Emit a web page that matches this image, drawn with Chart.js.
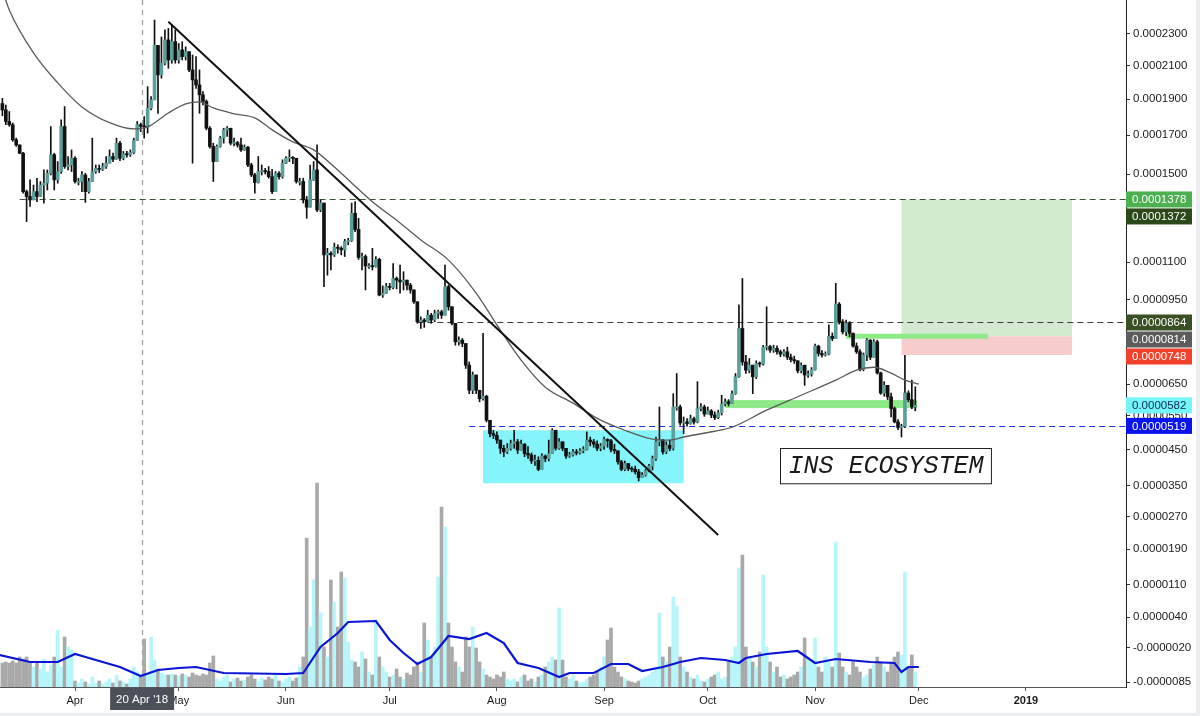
<!DOCTYPE html>
<html>
<head>
<meta charset="utf-8">
<script src="https://cdn.jsdelivr.net/npm/chart.js@4.4.1/dist/chart.umd.min.js"></script>
<style>
  html, body { margin: 0; padding: 0; background: #fff; }
  canvas { display: block; }
</style>
</head>
<body>
<canvas id="chart" width="1200" height="716"></canvas>
<script>
// INS/BTC daily candles. Prices in satoshi (1e-8 BTC), day 0 = 1 Apr 2018
const firstDay = -21;
const firstOpen = 18750;

const close = [
  18390, 17750, 17570, 16760, 16490, 16060, 14150, 13920, 13760, 14150, 13920, 14470, 14560, 15040, 15980, 14720, 15130, 17470, 15380, 15460, 15800,
  14640, 14640, 14960, 14150, 14640, 15130, 15290, 15240, 15380, 15550,
  15890, 15750, 16580, 15800, 16030, 15980, 16100, 16720, 17570, 17480,
  17450, 18480, 18960, 22260, 20430, 21140, 22610, 21340, 22500, 21340,
  21970, 21550, 21860, 20730, 20130, 19830, 19250, 18870, 17380, 16410,
  15630, 16410, 16850, 17290, 17380, 16580, 16610, 16490, 16230, 16370,
  15460, 14960, 14590, 15130, 15180, 15130, 14880, 14150, 15040, 14880,
  15550, 15800, 15850, 15800, 14640, 14640, 13760, 13420, 14720, 15210,
  13290, 13610, 11310, 11380, 11310, 11630, 11590, 11520, 11880, 11920,
  13140, 12410, 11200, 11240, 10850, 10850, 10820, 11120, 9680, 9750,
  10010, 9980, 10340, 10270,
  10200, 10270, 10070, 9880, 9420, 8670,
  8730, 8670, 8910, 8730, 8980, 9040, 8910, 10010, 9230, 8610,
  7940, 8000, 7880, 7130, 6300, 6800, 6300, 6030, 6110, 5360,
  4960, 4910, 4770, 4530, 4430, 4530, 4670, 4720, 4480, 4650,
  4380, 4340, 4170, 4190, 3940, 4310, 4240, 4380, 5060, 4530,
  4720, 4530, 4310, 4340, 4430, 4400, 4460, 4500, 4770, 4720,
  4650, 4530, 4600, 4790, 4750, 4500, 4460, 4150, 3940, 4100,
  3960, 3940, 3870, 3710, 3780, 3900, 4030, 4240, 4720, 4770,
  4430, 4620, 4530, 5770, 5770, 5280, 5310, 5260, 5410, 5310,
  5720, 5770, 5550, 5650, 5520, 5440, 5590, 5860, 5930, 5880,
  6190, 6740, 8420, 7240, 6960, 7130, 6740, 7190, 7170, 7750,
  7770, 7650, 7710, 7590, 7510, 7590, 7400, 7320, 7280, 6940,
  7130, 6800, 6830, 6980, 7790, 7530, 7480, 7510, 8140, 8060,
  9330, 8670, 8300, 8610, 8240, 7790, 7590, 6980, 7480, 8000,
  7400, 7940, 6870, 6210, 6460, 6090, 5720, 5310, 5140, 5180,
  6210, 6000, 5770, 5820
];

const high = [
  19050, 18670, 18300, 17660, 16850, 16490, 16100, 14230, 14720, 14470, 14800, 14640, 15210, 15210, 17470, 16060, 15630, 17840, 18580, 15890, 16230,
  15890, 14800, 15130, 15040, 14800, 16850, 15460, 15460, 15550, 15890,
  16230, 16060, 16850, 16680, 16150, 16150, 16230, 16850, 17750, 17660,
  18020, 19730, 19150, 23920, 22170, 22800, 23260, 23360, 23600, 23260,
  22380, 22490, 22170, 21550, 21650, 21550, 20730, 19440, 18960, 17470,
  16580, 16490, 16940, 17380, 17470, 17380, 16850, 16680, 16850, 16490,
  16410, 15550, 15040, 15890, 15460, 15290, 15380, 15240, 15130, 15130,
  15720, 15890, 16230, 15890, 15800, 14800, 14800, 13920, 15460, 15630,
  16490, 13760, 13450, 11590, 11450, 11810, 11740, 11660, 11980, 12020,
  13610, 13680, 12910, 11380, 11310, 10950, 11590, 11240, 11170, 10040,
  10140, 10140, 10950, 10400,
  10880, 10610, 10270, 10140, 9880, 9420,
  8850, 8790, 9100, 8980, 9100, 9100, 9100, 10880, 10070, 9230,
  8610, 8120, 8060, 7880, 7240, 6900, 6410, 6190, 8240, 6140,
  5360, 5060, 5010, 4770, 4620, 4670, 4770, 5060, 4790, 4770,
  4670, 4580, 4400, 4340, 4290, 4380, 4340, 4770, 5110, 5060,
  4810, 4720, 4530, 4420, 4500, 4500, 4520, 4580, 5010, 4860,
  4790, 4750, 4670, 4860, 4810, 4790, 4650, 4430, 4190, 4170,
  4050, 4010, 4030, 3940, 3850, 3940, 4080, 4310, 4860, 5770,
  4790, 4720, 4770, 6190, 6850, 5830, 5460, 5410, 5520, 5460,
  6580, 5880, 5830, 5770, 5690, 5620, 5670, 6140, 6030, 6000,
  6280, 6850, 9300, 10340, 7470, 7360, 7070, 7280, 7240, 7820,
  9230, 7820, 7820, 7800, 7650, 7670, 7750, 7510, 7440, 7280,
  7210, 7090, 6940, 7050, 7860, 7820, 7630, 7590, 8550, 8260,
  10140, 9390, 8750, 8730, 8670, 8260, 7900, 7670, 7550, 8060,
  8020, 8020, 8000, 6900, 6580, 6280, 6210, 5770, 5380, 5240,
  7470, 6280, 6630, 6410
];

const low = [
  18060, 17570, 17480, 16680, 16410, 16030, 14080, 12760, 13450, 13760, 13680, 13920, 13610, 14230, 14960, 14230, 14560, 15040, 15290, 15210, 15130,
  14560, 14470, 14150, 13640, 14080, 14640, 15040, 15080, 15180, 15290,
  15550, 15630, 16130, 15680, 15720, 15850, 15890, 16030, 16800, 17200,
  16850, 17120, 18390, 19050, 18200, 20230, 21040, 20830, 21140, 21140,
  21140, 21340, 21340, 20630, 15550, 19630, 18200, 18670, 17290, 16320,
  14640, 15630, 16370, 16580, 16940, 16490, 16440, 16370, 16150, 16200,
  15380, 14880, 14080, 14560, 14960, 15010, 14800, 14050, 14470, 14750,
  14800, 15520, 15630, 15520, 14560, 14470, 13610, 12910, 13530, 14690,
  13210, 13210, 10010, 10470, 10680, 11240, 11380, 11310, 11240, 11740,
  11880, 12310, 11120, 10680, 9880, 10750, 10680, 10800, 9650, 9590,
  9780, 9880, 9920, 9920,
  9750, 9880, 9880, 9750, 9360, 8610,
  8420, 8460, 8670, 8610, 8670, 8790, 8790, 8910, 9100, 8550,
  7820, 7820, 7770, 7020, 6190, 6190, 6190, 5930, 5980, 5310,
  4860, 4810, 4670, 4380, 4290, 4380, 4480, 4530, 4380, 4530,
  4290, 4240, 4100, 4050, 3900, 4120, 4150, 4170, 4380, 4480,
  4500, 4460, 4240, 4270, 4310, 4340, 4360, 4400, 4480, 4600,
  4560, 4460, 4460, 4500, 4560, 4430, 4380, 4080, 3900, 3900,
  3900, 3870, 3810, 3620, 3710, 3750, 3870, 3920, 4190, 4600,
  4360, 4380, 4460, 4480, 5670, 5210, 4960, 5180, 5240, 5240,
  5280, 5650, 5480, 5550, 5440, 5380, 5410, 5520, 5800, 5800,
  5880, 6170, 6720, 7130, 6850, 6870, 6190, 6680, 7070, 7130,
  7650, 7570, 7570, 7510, 7420, 7440, 7320, 7240, 7190, 6870,
  6870, 6460, 6720, 6760, 6960, 7440, 7400, 7440, 7480, 7980,
  8060, 8580, 8220, 8160, 8120, 7750, 7530, 6940, 6940, 7280,
  7320, 7590, 6830, 6170, 6110, 6000, 5460, 5280, 5080, 4860,
  5140, 5930, 5720, 5650
];

// volume (relative units)
const volume = [
  24, 25, 24, 26, 24, 30, 28, 30, 25,
  20, 25, 18, 28, 15, 22, 30, 57, 20, 50, 40, 37,
  6, 4, 8, 5, 3, 10, 4, 6, 3, 5, 8, 4, 12, 6, 5, 3, 8, 20, 15, 10,
  48, 12, 50, 27, 18,
  14, 12, 12, 13, 12, 11, 13, 12, 10, 14, 12, 11, 13, 12, 24, 31,
  8, 6, 10, 12, 5, 8, 9, 6, 7, 10, 12, 8, 6, 9, 7, 10, 8, 12, 6, 5,
  8, 10, 6, 9, 20, 30,
  149, 60, 107, 204, 74, 40, 30, 107, 85, 60, 115, 109, 45, 27,
  25, 20, 35, 28, 15, 12, 67, 30, 20, 15, 10, 12, 18, 10, 8, 14, 12, 20, 25, 15,
  64, 47, 30, 40, 110, 180, 160, 64, 40, 25,
  20, 15, 50, 40, 60, 39, 25, 18, 12, 10, 8, 12, 10, 15, 8,
  6, 8, 5, 10, 12, 6, 8, 5, 10, 12, 20, 25, 30, 27, 79, 27,
  10, 8, 12, 6, 4, 5, 8, 10, 12, 15, 20, 30, 47, 59, 20, 15, 10, 8, 6,
  5, 4, 6, 8, 10, 12, 15, 20, 74, 30, 25, 40, 90, 81, 30,
  20, 15, 10, 8, 12, 6, 5, 8, 10, 12, 15, 8, 10, 25, 30, 40, 119, 132, 40, 30,
  25, 20, 35, 112, 40, 25, 15, 20, 10, 12,
  8, 10, 12, 15, 20, 49, 30, 25, 49, 20, 15, 30, 25, 20, 145,
  34, 20, 15, 12, 25, 20, 15, 10, 12, 18, 22, 30, 25, 20, 15, 25, 30, 35, 32, 115, 20, 32, 15
];

// moving average of price (grey line)
const maDays = [-21, -19, -12, -5, 2, 10, 17, 21, 27, 32, 36, 40, 46, 52, 57, 63, 69, 75, 80, 86,
  94, 100, 108, 116, 123, 129, 136, 144, 151, 159, 167, 172, 176, 185, 190, 200, 210, 220, 226, 231, 236, 240, 244];
const maValues = [26000, 24600, 21780, 19950, 18560, 17680, 17340, 17450, 18220, 18730, 18850, 18500, 18170, 17950, 17290, 16650, 16230, 15360, 14570, 13670,
  12700, 11950, 11090, 9760, 8360, 7300, 6400, 5890, 5420, 5060, 4800, 4770, 4860, 5030, 5150, 5670, 6140, 6630, 6960, 7060, 6860, 6630, 6500];

// moving average of volume (blue line)
const volMaDays = [-22, -13, -5, 0, 4, 13, 19, 24, 30, 35, 43, 61, 66, 71, 76, 79, 87, 91, 95, 99,
  103, 108, 114, 119, 124, 128, 134, 140, 143, 150, 155, 160, 164, 170, 175, 181, 188, 192, 194, 200,
  209, 214, 220, 230, 237, 239, 241, 244];
const volMaValues = [32, 25, 25, 33, 29, 20, 11, 17, 19, 20, 14, 13, 14, 40, 54, 65, 66, 47, 34, 23,
  30, 51, 48, 54, 44, 24, 19, 10, 14, 14, 23, 23, 16, 20, 25, 29, 27, 24, 29, 33,
  36, 24, 28, 25, 24, 15, 20, 20];

const monthDays = [0, 30, 61, 91, 122, 153, 183, 214, 244, 275];
const monthLabels = ['Apr', 'May', 'Jun', 'Jul', 'Aug', 'Sep', 'Oct', 'Nov', 'Dec', '2019'];
const priceTicks = [23000, 21000, 19000, 17000, 15000, 11000, 9500, 6500, 5500, 4500, 3500, 2700, 1900, 1100, 400, -200, -850];

// drawings
const tagValues = [13780, 13720, 8640, 8140, 7480, 5820, 5190];
const levelPrices = [13780, 8640, 5190];
const levelFromDay = [-16, 99, 114];
const boxFromDay = [118, 239, 239];
const boxToDay = [176, 288.3, 288.3];
const boxLow = [3560, 8140, 7480];
const boxHigh = [5060, 13780, 8140];
const bandFromDay = [223, 188];
const bandToDay = [264, 243.5];
const bandPrice = [8140, 5860];
const trendDays = [27, 186];
const trendPrices = [23800, 2240];
const markerDay = 19.4;
const markerLabel = "20 Apr '18";
const noteDays = [204, 265];
const notePrices = [3560, 4540];
const noteText = 'INS ECOSYSTEM';

const days = close.map((c, i) => firstDay + i);
const open = close.map((c, i) => (i === 0 ? firstOpen : close[i - 1]));
const isUp = close.map((c, i) => c >= open[i]);

// price axis of the original: log of (price + offset)
const SHIFT = 10000;
class ShiftedLogScale extends Chart.LinearScale {
  fn(v) { return Math.log(v + SHIFT); }
  getPixelForValue(v) {
    if (v === null || v === undefined || isNaN(v)) return NaN;
    const a = this.fn(this.max), b = this.fn(this.min);
    return this.top + (a - this.fn(v)) / (a - b) * (this.bottom - this.top);
  }
  getValueForPixel(p) {
    const a = this.fn(this.max), b = this.fn(this.min);
    return Math.exp(a - (p - this.top) / (this.bottom - this.top) * (a - b)) - SHIFT;
  }
}
ShiftedLogScale.id = 'shiftedLog';
ShiftedLogScale.defaults = Chart.LinearScale.defaults;
Chart.register(ShiftedLogScale);

const FONT = '"Liberation Sans", Arial, Helvetica, sans-serif';

const overlays = {
  id: 'overlays',
  beforeDatasetsDraw(chart) {
    const { ctx, chartArea: a, scales: { x, y } } = chart;
    ctx.save();
    ctx.beginPath();
    ctx.rect(a.left, a.top, a.right - a.left, a.bottom - a.top);
    ctx.clip();

    const boxColors = ['#86f5fb', '#d3ead1', '#f6cccc'];
    boxFromDay.forEach((d, i) => {
      const x0 = x.getPixelForValue(d), x1 = x.getPixelForValue(boxToDay[i]);
      const y0 = y.getPixelForValue(boxHigh[i]), y1 = y.getPixelForValue(boxLow[i]);
      ctx.fillStyle = boxColors[i];
      ctx.fillRect(x0, y0, x1 - x0, y1 - y0);
    });

    const bandWidth = [5, 8];
    bandFromDay.forEach((d, i) => {
      const x0 = x.getPixelForValue(d), x1 = x.getPixelForValue(bandToDay[i]);
      const yc = y.getPixelForValue(bandPrice[i]);
      ctx.fillStyle = '#8eea88';
      ctx.fillRect(x0, yc - bandWidth[i] / 2, x1 - x0, bandWidth[i]);
    });

    const levelColors = ['#3c5436', '#3d3d3d', '#1b2fe6'];
    ctx.lineWidth = 1;
    levelPrices.forEach((p, i) => {
      const yy = Math.round(y.getPixelForValue(p)) + 0.5;
      ctx.strokeStyle = levelColors[i];
      ctx.setLineDash([6, 4]);
      ctx.beginPath();
      ctx.moveTo(x.getPixelForValue(levelFromDay[i]), yy);
      ctx.lineTo(a.right, yy);
      ctx.stroke();
    });

    // date crosshair
    const mx = Math.round(x.getPixelForValue(markerDay)) + 0.5;
    ctx.strokeStyle = '#a0a0a0';
    ctx.lineWidth = 1.3;
    ctx.setLineDash([5, 5]);
    ctx.beginPath();
    ctx.moveTo(mx, a.top);
    ctx.lineTo(mx, a.bottom);
    ctx.stroke();
    ctx.restore();
  },
  afterDatasetsDraw(chart) {
    const { ctx, chartArea: a, scales: { x, y } } = chart;
    ctx.save();
    ctx.beginPath();
    ctx.rect(a.left, a.top, a.right - a.left, a.bottom - a.top);
    ctx.clip();

    // trend line
    ctx.strokeStyle = '#111';
    ctx.lineWidth = 2;
    ctx.beginPath();
    ctx.moveTo(x.getPixelForValue(trendDays[0]), y.getPixelForValue(trendPrices[0]));
    ctx.lineTo(x.getPixelForValue(trendDays[1]), y.getPixelForValue(trendPrices[1]));
    ctx.stroke();

    // text note
    const nx0 = x.getPixelForValue(noteDays[0]), nx1 = x.getPixelForValue(noteDays[1]);
    const ny0 = y.getPixelForValue(notePrices[1]), ny1 = y.getPixelForValue(notePrices[0]);
    ctx.fillStyle = '#fff';
    ctx.fillRect(nx0, ny0, nx1 - nx0, ny1 - ny0);
    ctx.strokeStyle = '#222';
    ctx.lineWidth = 1;
    ctx.strokeRect(Math.round(nx0) + 0.5, Math.round(ny0) + 0.5, nx1 - nx0, ny1 - ny0);
    ctx.fillStyle = '#1a1a1a';
    ctx.font = 'italic 25px "Liberation Mono", "DejaVu Sans Mono", monospace';
    ctx.textAlign = 'center';
    ctx.textBaseline = 'middle';
    ctx.fillText(noteText, (nx0 + nx1) / 2, (ny0 + ny1) / 2 + 1);
    ctx.restore();
  },
  afterDraw(chart) {
    const { ctx, chartArea: a, scales: { x, y } } = chart;
    ctx.save();

    // price tags on the right axis
    const tagBg = ['#4caf50', '#2b4818', '#394f24', '#5c5c5c', '#f2412d', '#74f5fb', '#0a14ee'];
    const tagFg = ['#fff', '#fff', '#fff', '#fff', '#fff', '#0b2a52', '#fff'];
    const h = 16;
    let prevBottom = -Infinity;
    ctx.font = '11.5px ' + FONT;
    ctx.textBaseline = 'middle';
    ctx.textAlign = 'left';
    tagValues.forEach((v, i) => {
      let yc = y.getPixelForValue(v);
      if (yc - h / 2 < prevBottom + 1) yc = prevBottom + 1 + h / 2;
      prevBottom = yc + h / 2;
      ctx.fillStyle = tagBg[i];
      ctx.fillRect(a.right, yc - h / 2, 66, h);
      ctx.fillStyle = tagFg[i];
      ctx.fillText((v / 1e8).toFixed(7), a.right + 6, yc + 0.5);
    });

    // crosshair date label
    const mx = x.getPixelForValue(markerDay);
    ctx.fillStyle = '#4b5059';
    ctx.fillRect(mx - 32, a.bottom + 1, 64, 22);
    ctx.fillStyle = '#fff';
    ctx.textAlign = 'center';
    ctx.fillText(markerLabel, mx, a.bottom + 12.5);

    // window frame
    ctx.fillStyle = '#eceef1';
    ctx.fillRect(1196, 0, 4, 716);
    ctx.fillRect(0, 713, 1200, 3);
    ctx.restore();
  }
};

const candleWicks = days.map((d, i) => ({
  x: d,
  y: [Math.min(low[i], open[i], close[i]), Math.max(high[i], open[i], close[i])]
}));
const candleBodies = days.map((d, i) => ({ x: d, y: [open[i], close[i]] }));

new Chart(document.getElementById('chart'), {
  type: 'bar',
  data: {
    datasets: [
      {
        label: 'Price MA',
        type: 'line',
        yAxisID: 'y',
        data: maDays.map((d, i) => ({ x: d, y: maValues[i] })),
        borderColor: '#5a5a5a',
        borderWidth: 1.3,
        pointRadius: 0,
        cubicInterpolationMode: 'monotone',
        order: 1
      },
      {
        label: 'Body',
        yAxisID: 'y',
        data: candleBodies,
        backgroundColor: isUp.map(u => (u ? '#5d9f9a' : '#111')),
        borderWidth: 0,
        barThickness: 3,
        minBarLength: 1,
        grouped: false,
        order: 2
      },
      {
        label: 'Wick',
        yAxisID: 'y',
        data: candleWicks,
        backgroundColor: '#111',
        borderWidth: 0,
        barThickness: 1,
        minBarLength: 1,
        grouped: false,
        order: 3
      },
      {
        label: 'Volume MA',
        type: 'line',
        yAxisID: 'yv',
        data: volMaDays.map((d, i) => ({ x: d, y: volMaValues[i] })),
        borderColor: '#0a16d6',
        borderWidth: 2.2,
        pointRadius: 0,
        order: 4
      },
      {
        label: 'Volume',
        yAxisID: 'yv',
        data: days.map((d, i) => ({ x: d, y: volume[i] })),
        backgroundColor: isUp.map(u => (u ? '#b6f6fb' : '#a9a9a9')),
        borderWidth: 0,
        barThickness: 3,
        grouped: false,
        order: 5
      }
    ]
  },
  options: {
    responsive: false,
    devicePixelRatio: 1,
    animation: false,
    layout: { padding: 0 },
    plugins: {
      legend: { display: false },
      tooltip: { enabled: false }
    },
    scales: {
      x: {
        type: 'linear',
        min: -21.69,
        max: 303.93,
        bounds: 'data',
        offset: false,
        afterBuildTicks: (s) => { s.ticks = monthDays.map(v => ({ value: v })); },
        afterFit: (s) => { s.height = 29; s.paddingLeft = 0; s.paddingRight = 0; },
        grid: { display: true, drawOnChartArea: false, drawTicks: true, tickLength: 4, color: '#555', offset: false },
        border: { display: true, color: '#555', width: 1 },
        ticks: {
          autoSkip: false,
          maxRotation: 0,
          padding: 3,
          color: '#1a1a1a',
          font: (c) => ({ family: FONT, size: 11, weight: c.tick && c.tick.value === 275 ? 'bold' : 'normal' }),
          callback: (v, i) => monthLabels[i]
        }
      },
      y: {
        type: 'shiftedLog',
        position: 'right',
        min: -940,
        max: 25290,
        bounds: 'data',
        beginAtZero: false,
        afterBuildTicks: (s) => { s.ticks = priceTicks.map(v => ({ value: v })); },
        afterFit: (s) => { s.width = 74; s.paddingTop = 0; s.paddingBottom = 0; },
        grid: { display: true, drawOnChartArea: false, drawTicks: true, tickLength: 4, color: '#333' },
        border: { display: true, color: '#222', width: 1 },
        ticks: {
          autoSkip: false,
          padding: 3,
          color: '#1a1a1a',
          font: { family: FONT, size: 11.5 },
          callback: (v) => (v / 1e8).toFixed(7)
        }
      },
      yv: {
        type: 'linear',
        display: false,
        min: 0,
        max: 687
      }
    }
  },
  plugins: [overlays]
});
</script>
</body>
</html>
